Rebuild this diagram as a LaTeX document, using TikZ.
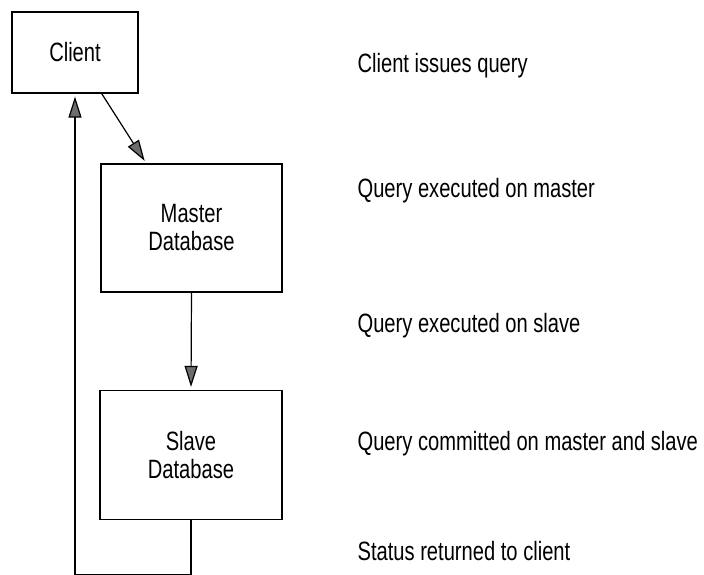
\documentclass[tikz,border=0pt]{standalone}
\usepackage{fontspec}
\setmainfont{Liberation Sans}[FakeStretch=0.76]
\usetikzlibrary{arrows.meta}

\begin{document}
\begin{tikzpicture}[x=1pt,y=-1pt,line width=1.2pt,
    flow/.style={-{Triangle[length=21pt,width=13pt,fill=gray!85!black]},shorten >=3pt}]

        \useasboundingbox[fill=white] (0,0) rectangle (704,574);

        \begin{scope}[every node/.style={draw, rectangle, align=center, inner sep=0pt,
            font=\fontsize{26.5pt}{28pt}\selectfont}]
          \node[minimum width=126pt, minimum height=81pt]  (client) at (75,52.5)    {Client};
          \node[minimum width=181pt, minimum height=128pt] (master) at (191.5,228)  {Master\\Database};
          \node[minimum width=182pt, minimum height=129pt] (slave)  at (191,455)    {Slave\\Database};
        \end{scope}

        \begin{scope}[every node/.style={anchor=base west, inner sep=0pt,
            font=\fontsize{26.5pt}{28pt}\selectfont}]
          \node (issue)    at (357,72)  {Client issues query};
          \node (onmaster) at (357,197) {Query executed on master};
          \node (onslave)  at (357,332) {Query executed on slave};
          \node (commit)   at (357,450) {Query committed on master and slave};
          \node (status)   at (357,560) {Status returned to client};
        \end{scope}

        \begin{scope}[every edge/.style={draw, flow}]
          \path (client.-57)   edge (master.125);
          \path (master.south) edge (slave.north);
        \end{scope}
        \draw[flow] (slave.south) -- ++(0,54) -| (client.south);

      \end{tikzpicture}
\end{document}
